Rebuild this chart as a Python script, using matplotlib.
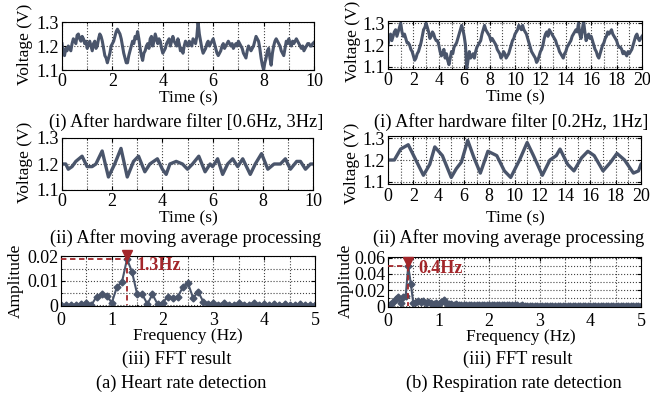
import numpy as np
import matplotlib
matplotlib.use('Agg')
import matplotlib.pyplot as plt
from matplotlib.ticker import MultipleLocator, FuncFormatter
from matplotlib.transforms import offset_copy

plt.rcParams['font.family'] = ['Liberation Serif', 'DejaVu Serif']

# heart rate: raw signal after hardware filter, sampled every 0.05 s
heart_raw = [1.21, 1.17, 1.16, 1.19, 1.18, 1.20, 1.19, 1.18, 1.21, 1.23,
             1.22, 1.21, 1.245, 1.25, 1.23, 1.22, 1.24, 1.23, 1.21, 1.22,
             1.19, 1.21, 1.22, 1.20, 1.18, 1.21, 1.22, 1.19, 1.20, 1.23,
             1.25, 1.24, 1.22, 1.19, 1.16, 1.15, 1.13, 1.15, 1.17, 1.20,
             1.21, 1.22, 1.24, 1.26, 1.27, 1.26, 1.25, 1.23, 1.20, 1.17,
             1.15, 1.13, 1.13, 1.16, 1.18, 1.20, 1.22, 1.21, 1.24, 1.23,
             1.26, 1.23, 1.19, 1.16, 1.14, 1.17, 1.18, 1.20, 1.21, 1.19,
             1.23, 1.24, 1.20, 1.22, 1.25, 1.23, 1.21, 1.23, 1.22, 1.19,
             1.17, 1.18, 1.19, 1.21, 1.22, 1.23, 1.20, 1.22, 1.24, 1.22,
             1.21, 1.20, 1.23, 1.21, 1.18, 1.19, 1.17, 1.20, 1.22, 1.21,
             1.20, 1.22, 1.21, 1.20, 1.23, 1.22, 1.21, 1.24, 1.30, 1.25,
             1.22, 1.19, 1.17, 1.18, 1.19, 1.21, 1.22, 1.20, 1.21, 1.22,
             1.23, 1.21, 1.19, 1.17, 1.16, 1.17, 1.18, 1.20, 1.21, 1.19,
             1.20, 1.21, 1.22, 1.21, 1.20, 1.21, 1.19, 1.20, 1.21, 1.20,
             1.22, 1.21, 1.20, 1.19, 1.17, 1.16, 1.15, 1.18, 1.20, 1.19,
             1.18, 1.19, 1.20, 1.22, 1.24, 1.23, 1.22, 1.19, 1.15, 1.12,
             1.10, 1.13, 1.15, 1.18, 1.19, 1.15, 1.12, 1.17, 1.20, 1.22,
             1.23, 1.22, 1.21, 1.20, 1.18, 1.17, 1.16, 1.19, 1.22, 1.21,
             1.23, 1.21, 1.20, 1.22, 1.21, 1.22, 1.23, 1.22, 1.21, 1.20,
             1.19, 1.20, 1.18, 1.19, 1.20, 1.21, 1.21, 1.20, 1.20, 1.21,
             1.215]

# heart rate: after moving average
heart_avg_t = [0, 0.15, 0.25, 0.4, 0.55, 0.8, 1.0, 1.2, 1.35, 1.6, 1.85, 2.1,
               2.35, 2.6, 2.85, 3.05, 3.3, 3.5, 3.8, 4.0, 4.15, 4.3, 4.55, 4.8,
               5.0, 5.2, 5.45, 5.7, 5.9, 6.0, 6.2, 6.4, 6.6, 6.8, 7.0, 7.2,
               7.5, 7.7, 7.95, 8.2, 8.45, 8.7, 8.9, 9.1, 9.35, 9.5, 9.7, 9.9, 10]
heart_avg_v = [1.20, 1.20, 1.18, 1.19, 1.21, 1.23, 1.19, 1.19, 1.20, 1.25, 1.15, 1.20,
               1.26, 1.15, 1.21, 1.23, 1.17, 1.20, 1.22, 1.18, 1.16, 1.20, 1.21, 1.20,
               1.18, 1.20, 1.23, 1.17, 1.20, 1.19, 1.22, 1.16, 1.20, 1.22, 1.19, 1.22,
               1.16, 1.20, 1.24, 1.18, 1.20, 1.20, 1.22, 1.18, 1.21, 1.21, 1.18, 1.20, 1.20]

# heart rate FFT, 0.1 Hz bins
heart_fft = [0, 0, 0.0002, 0.0003, 0.0005, 0.0008, 0.0002, 0.0035, 0.0045, 0.004,
             0.001, 0.0075, 0.0095, 0.019, 0.0135, 0.0045, 0.0045, 0.0005, 0.0045, 0.0005,
             0.001, 0.0035, 0.003, 0.0035, 0.0075, 0.009, 0.003, 0.0055, 0.0015, 0.0005,
             0.0008, 0.0003, 0.001, 0.0003, 0.0002, 0.0008, 0.0003, 0.0002, 0.001, 0.0003,
             0.0005, 0.0002, 0.0004, 0.0003, 0.0005, 0.0002, 0.0003, 0.0004, 0.0002, 0.0003,
             0.0002]

# respiration: raw signal, sampled every 0.1 s
resp_raw = [1.20, 1.23, 1.25, 1.22, 1.24, 1.26, 1.27, 1.24, 1.26, 1.28,
            1.30, 1.26, 1.24, 1.25, 1.23, 1.21, 1.21, 1.20, 1.18, 1.17,
            1.15, 1.13, 1.14, 1.16, 1.17, 1.19, 1.21, 1.24, 1.27, 1.28,
            1.30, 1.28, 1.26, 1.23, 1.24, 1.26, 1.25, 1.23, 1.22, 1.22,
            1.20, 1.17, 1.15, 1.16, 1.18, 1.14, 1.16, 1.13, 1.11, 1.14,
            1.17, 1.16, 1.19, 1.20, 1.21, 1.23, 1.25, 1.27, 1.29, 1.27,
            1.24, 1.20, 1.09, 1.13, 1.17, 1.14, 1.15, 1.16, 1.14, 1.17,
            1.19, 1.20, 1.21, 1.22, 1.25, 1.27, 1.29, 1.27, 1.26, 1.25,
            1.24, 1.22, 1.23, 1.22, 1.21, 1.20, 1.18, 1.17, 1.16, 1.14,
            1.15, 1.17, 1.16, 1.14, 1.15, 1.16, 1.18, 1.20, 1.22, 1.23,
            1.25, 1.26, 1.27, 1.29, 1.28, 1.27, 1.29, 1.27, 1.26, 1.25,
            1.23, 1.21, 1.19, 1.17, 1.16, 1.15, 1.14, 1.12, 1.13, 1.15,
            1.17, 1.18, 1.20, 1.23, 1.25, 1.26, 1.24, 1.27, 1.26, 1.25,
            1.24, 1.23, 1.22, 1.20, 1.19, 1.17, 1.16, 1.15, 1.14, 1.16,
            1.17, 1.19, 1.20, 1.21, 1.22, 1.24, 1.25, 1.26, 1.27, 1.26,
            1.30, 1.25, 1.23, 1.27, 1.31, 1.26, 1.22, 1.24, 1.25, 1.23,
            1.24, 1.22, 1.20, 1.18, 1.17, 1.15, 1.14, 1.16, 1.18, 1.20,
            1.21, 1.23, 1.24, 1.26, 1.25, 1.26, 1.27, 1.25, 1.24, 1.23,
            1.22, 1.20, 1.19, 1.19, 1.18, 1.16, 1.17, 1.16, 1.15, 1.17,
            1.16, 1.17, 1.18, 1.20, 1.22, 1.24, 1.25, 1.23, 1.22, 1.23,
            1.24]

# respiration: after moving average
resp_avg_t = [0, 0.5, 1.0, 1.6, 2.2, 2.8, 3.3, 3.7, 4.3, 5.0, 5.4, 5.8, 6.3,
              6.8, 7.3, 7.9, 8.6, 9.2, 9.7, 10.4, 11.0, 11.5, 12.2, 12.8, 13.3,
              13.6, 14.2, 14.7, 15.3, 15.8, 16.3, 17.0, 17.6, 18.1, 18.7, 19.4, 19.8, 20]
resp_avg_v = [1.20, 1.20, 1.25, 1.27, 1.20, 1.13, 1.18, 1.26, 1.22, 1.12, 1.16, 1.19, 1.29,
              1.21, 1.14, 1.24, 1.22, 1.15, 1.12, 1.20, 1.28, 1.22, 1.13, 1.20, 1.22,
              1.25, 1.18, 1.15, 1.21, 1.24, 1.22, 1.15, 1.19, 1.23, 1.20, 1.14, 1.15, 1.18]

# respiration FFT, 0.05 Hz bins
resp_fft = [0.002, 0.003, 0.005, 0.009, 0.011, 0.004, 0.012, 0.013, 0.050, 0.028,
            0.004, 0.005, 0.006, 0.005, 0.006, 0.004, 0.005, 0.004, 0.003, 0.004,
            0.003, 0.005, 0.008, 0.004, 0.003, 0.0025, 0.002, 0.0025, 0.002, 0.002,
            0.0018, 0.002, 0.0017, 0.0018, 0.0016, 0.0017, 0.0015, 0.0016, 0.0015, 0.0014,
            0.0015, 0.0013, 0.0014, 0.0013, 0.0012, 0.0013, 0.0012, 0.0012, 0.0011, 0.0012,
            0.0011, 0.0011, 0.001, 0.0011, 0.001, 0.001, 0.001, 0.0009, 0.001, 0.0009,
            0.0009, 0.0009, 0.0008, 0.0009, 0.0008, 0.0008, 0.0008, 0.0008, 0.0007, 0.0008,
            0.0007, 0.0007, 0.0007, 0.0007, 0.0007, 0.0006, 0.0007, 0.0006, 0.0006, 0.0006,
            0.0006, 0.0006, 0.0006, 0.0005, 0.0006, 0.0005, 0.0005, 0.0005, 0.0005, 0.0005,
            0.0005, 0.0005, 0.0005, 0.0005, 0.0004, 0.0005, 0.0004, 0.0004, 0.0004, 0.0004,
            0.0004]

heart_peak = 1.3
resp_peak = 0.4

LINE = '#4a556b'
RED = '#a3262a'
W, H = 650, 400
CAP = 13.2


def px_axes(fig, x0, y0, x1, y1):
  # axes from pixel box (top-left origin)
  return fig.add_axes([x0 / W, 1 - y1 / H, (x1 - x0) / W, (y1 - y0) / H])


def ftext(fig, x, y, s, size=CAP, **kw):
  fig.text(x / W, 1 - y / H, s, ha='center', va='center', fontsize=size, **kw)


def style(ax, xmax, xmajor, xminor, ylim, yticks, yminor=None, pad=3):
  ax.set_xlim(0, xmax)
  ax.set_ylim(*ylim)
  ax.xaxis.set_major_locator(MultipleLocator(xmajor))
  ax.xaxis.set_minor_locator(MultipleLocator(xminor))
  ax.set_yticks(yticks)
  if yminor:
    ax.yaxis.set_minor_locator(MultipleLocator(yminor))
  ax.yaxis.set_major_formatter(FuncFormatter(lambda v, p: f'{v:g}'))
  ax.xaxis.set_major_formatter(FuncFormatter(lambda v, p: f'{v:g}'))
  ax.grid(True, which='both', linestyle=':', color='#444444', linewidth=0.8)
  ax.tick_params(which='both', direction='in', top=True, right=True)
  ax.tick_params(which='major', length=3, labelsize=13)
  ax.tick_params(axis='x', pad=pad)
  ax.tick_params(axis='y', pad=2)
  ax.tick_params(which='minor', length=1.5)
  for s in ax.spines.values():
    s.set_linewidth(0.8)


def mark_peak(ax, fig, f, fft_vals, step, label, tx, ty):
  i = int(round(f / step))
  amp = fft_vals[i]
  ax.plot([0, f], [amp, amp], '--', color=RED, lw=1.3, dashes=(3, 2), zorder=4)
  ax.plot([f, f], [amp, 0], '--', color=RED, lw=1.3, dashes=(3, 2), zorder=4)
  tr = offset_copy(ax.transData, fig=fig, x=0, y=3, units='points')
  ax.plot([f], [amp], 'v', color=RED, ms=7, transform=tr, clip_on=False, zorder=5)
  ax.text(tx, ty, label, color=RED, fontsize=13, fontweight='bold', va='center')


def main():
  fig = plt.figure(figsize=(6.5, 4), dpi=100)

  # (a) heart rate
  ax = px_axes(fig, 62, 22, 314, 70)
  t = np.arange(len(heart_raw)) * 0.05
  ax.plot(t, heart_raw, color=LINE, lw=2.2)
  style(ax, 10, 2, 1, (1.1, 1.3), [1.1, 1.2, 1.3], pad=2)
  ftext(fig, 25, 44, 'Voltage (V)', 12.5, rotation=90)
  ftext(fig, 188, 98, 'Time (s)', 12.5)
  ftext(fig, 186, 122, '(i) After hardware filter [0.6Hz, 3Hz]')

  ax = px_axes(fig, 62, 138, 313, 190)
  ax.plot(heart_avg_t, heart_avg_v, color=LINE, lw=2.4, solid_joinstyle='round')
  style(ax, 10, 2, 1, (1.1, 1.3), [1.1, 1.2, 1.3], pad=2)
  ftext(fig, 25, 162, 'Voltage (V)', 12.5, rotation=90)
  ftext(fig, 188, 218, 'Time (s)', 12.5)
  ftext(fig, 186, 238, '(ii) After moving average processing')

  ax = px_axes(fig, 61, 256, 315, 306)
  f = np.arange(len(heart_fft)) * 0.1
  ax.plot(f, heart_fft, color=LINE, lw=1.5, marker='D', ms=3.5)
  style(ax, 5, 1, 0.5, (-0.0003, 0.0202), [0, 0.01, 0.02], 0.005, pad=4)
  mark_peak(ax, fig, heart_peak, heart_fft, 0.1, '1.3Hz', 1.48, 0.0161)
  ftext(fig, 16, 281, 'Amplitude', 12.5, rotation=90)
  ftext(fig, 188, 336, 'Frequency (Hz)', 12.5)
  ftext(fig, 177, 359, '(iii) FFT result')
  ftext(fig, 181, 383, '(a) Heart rate detection')

  # (b) respiration rate
  ax = px_axes(fig, 388, 21, 642, 69)
  t = np.arange(len(resp_raw)) * 0.1
  ax.plot(t, resp_raw, color=LINE, lw=2.2)
  style(ax, 20, 2, 1, (1.09, 1.31), [1.1, 1.2, 1.3], pad=2)
  ftext(fig, 353, 41, 'Voltage (V)', 12.5, rotation=90)
  ftext(fig, 515, 97, 'Time (s)', 12.5)
  ftext(fig, 511, 122, '(i) After hardware filter [0.2Hz, 1Hz]')

  ax = px_axes(fig, 388, 136, 641, 184)
  ax.plot(resp_avg_t, resp_avg_v, color=LINE, lw=2.4, solid_joinstyle='round')
  style(ax, 20, 2, 1, (1.09, 1.31), [1.1, 1.2, 1.3])
  ftext(fig, 352, 163, 'Voltage (V)', 12.5, rotation=90)
  ftext(fig, 515, 218, 'Time (s)', 12.5)
  ftext(fig, 509, 238, '(ii) After moving average processing')

  ax = px_axes(fig, 388, 257, 641, 307)
  f = np.arange(len(resp_fft)) * 0.05
  ax.plot(f, resp_fft, color=LINE, lw=1.5, marker='D', ms=3.5)
  style(ax, 5, 1, 0.5, (-0.0008, 0.0608), [0, 0.02, 0.04, 0.06], 0.01, pad=4)
  mark_peak(ax, fig, resp_peak, resp_fft, 0.05, '0.4Hz', 0.61, 0.047)
  ftext(fig, 346, 281, 'Amplitude', 12.5, rotation=90)
  ftext(fig, 521, 337, 'Frequency (Hz)', 12.5)
  ftext(fig, 518, 359, '(iii) FFT result')
  ftext(fig, 514, 383, '(b) Respiration rate detection')

  fig.savefig('out.png', dpi=100)


if __name__ == "__main__":
  main()
